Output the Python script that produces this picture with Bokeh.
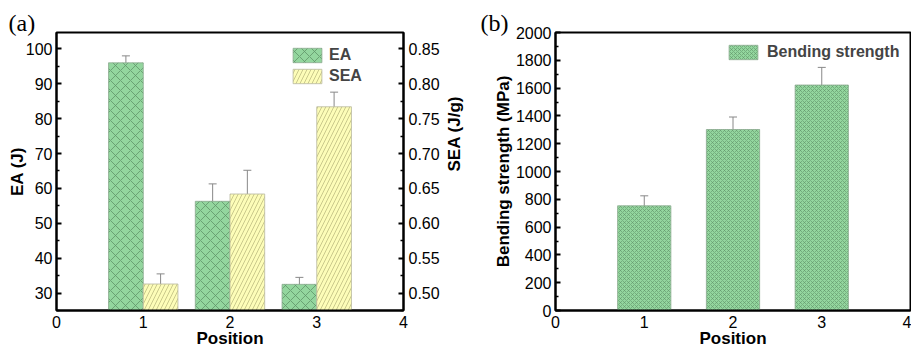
import math
from bokeh.plotting import figure
from bokeh.models import (ColumnDataSource, Range1d, LinearAxis, FixedTicker, Whisker, TeeHead,
                          Legend, LegendItem, Title, NumeralTickFormatter)
from bokeh.layouts import row
from bokeh.transform import dodge
from bokeh.embed import file_html
from bokeh.resources import INLINE

# ---- data ----
positions = [1, 2, 3]
ea = [96.0, 56.3, 32.5]
ea_err = [2.0, 5.0, 2.0]
sea = [0.513, 0.642, 0.767]
sea_err = [0.0145, 0.034, 0.021]
bending = [753, 1302, 1622]
bending_err = [72, 90, 127]
x_ticks = [0, 1, 2, 3, 4]
ea_ticks = [30, 40, 50, 60, 70, 80, 90, 100]
sea_ticks = [0.50, 0.55, 0.60, 0.65, 0.70, 0.75, 0.80, 0.85]
bend_ticks = [0, 200, 400, 600, 800, 1000, 1200, 1400, 1600, 1800, 2000]

FONT = "Liberation Sans"
GREEN = "#93d69e"
GREEN_H = "#5f9468"
YELLOW = "#fdfdb8"
YELLOW_H = "#bdbb80"


def style_axis(ax, tick_in=5, minor_in=3):
    ax.axis_line_color = "black"
    ax.axis_line_width = 2
    ax.major_tick_in = tick_in
    ax.major_tick_out = 0
    ax.minor_tick_in = minor_in
    ax.minor_tick_out = 0
    ax.major_tick_line_width = 2
    ax.minor_tick_line_width = 1.5
    ax.major_label_text_font = FONT
    ax.major_label_text_font_size = "16px"
    ax.major_label_text_color = "black"
    ax.axis_label_text_font = FONT
    ax.axis_label_text_font_size = "17px"
    ax.axis_label_text_font_style = "bold"
    ax.axis_label_text_color = "black"


def base_fig(width, yr, ml, mr, tag, tag_offset):
    p = figure(width=width, height=350, x_range=Range1d(0, 4), y_range=yr,
               output_backend="svg", toolbar_location=None,
               min_border_left=ml, min_border_right=mr, min_border_top=32, min_border_bottom=10)
    p.title = Title(text=tag, align="left", offset=tag_offset, standoff=-7, vertical_align="bottom",
                    text_font="Liberation Serif", text_font_size="24px", text_font_style="normal",
                    text_color="black")
    p.xgrid.visible = False
    p.ygrid.visible = False
    p.outline_line_color = "black"
    p.outline_line_width = 2
    p.outline_line_alpha = 1
    p.background_fill_color = "white"
    p.border_fill_color = "white"
    p.xaxis.ticker = FixedTicker(ticks=x_ticks)
    p.xaxis.axis_label = "Position"
    style_axis(p.xaxis[0], tick_in=0, minor_in=0)
    p.xaxis.major_label_standoff = 5
    p.xaxis.axis_label_standoff = -2
    return p


# ---- panel (a) ----
src_a = ColumnDataSource(dict(pos=positions, ea=ea, ea_up=[v + e for v, e in zip(ea, ea_err)],
                              ea_lo=[v - e for v, e in zip(ea, ea_err)],
                              sea=sea, sea_up=[v + e for v, e in zip(sea, sea_err)],
                              sea_lo=[v - e for v, e in zip(sea, sea_err)]))

pa = base_fig(478, Range1d(25, 104.7), 56, 75, "(a)", -48)
pa.extra_y_ranges = {"sea": Range1d(0.475, 0.8735)}
pa.yaxis.ticker = FixedTicker(ticks=ea_ticks, minor_ticks=[v + 5 for v in ea_ticks[:-1]] + [25])
pa.yaxis.axis_label = "EA (J)"
style_axis(pa.yaxis[0])
pa.yaxis.major_label_standoff = 4
pa.yaxis.axis_label_standoff = -4

ax_r = LinearAxis(y_range_name="sea", axis_label="SEA (J/g)",
                  ticker=FixedTicker(ticks=sea_ticks, minor_ticks=[round(v + 0.025, 3) for v in sea_ticks[:-1]] + [0.475]),
                  formatter=NumeralTickFormatter(format="0.00"))
style_axis(ax_r)
ax_r.major_label_standoff = 5
ax_r.axis_label_standoff = 12
if "axis_label_orientation" in ax_r.properties():
    ax_r.axis_label_orientation = math.pi / 2
pa.add_layout(ax_r, "right")

r_ea = pa.vbar(x=dodge("pos", -0.2, range=pa.x_range), top="ea", width=0.4, source=src_a,
               fill_color=GREEN, line_color="#8aa88e", line_width=0.8,
               hatch_pattern="diagonal_cross", hatch_color=GREEN_H, hatch_scale=10, hatch_weight=0.8)
r_sea = pa.vbar(x=dodge("pos", 0.2, range=pa.x_range), top="sea", width=0.4, source=src_a,
                y_range_name="sea", fill_color=YELLOW, line_color="#b8b8a0", line_width=0.8,
                hatch_pattern="right_diagonal_line", hatch_color=YELLOW_H, hatch_scale=8, hatch_weight=0.8)

pa.add_layout(Whisker(base=dodge("pos", -0.2, range=pa.x_range), upper="ea_up", lower="ea_lo", source=src_a,
                      line_color="#888888", line_width=1,
                      upper_head=TeeHead(size=8, line_color="#888888", line_width=1),
                      lower_head=TeeHead(size=8, line_color="#888888", line_width=1)))
pa.add_layout(Whisker(base=dodge("pos", 0.2, range=pa.x_range), upper="sea_up", lower="sea_lo", source=src_a,
                      y_range_name="sea", line_color="#888888", line_width=1,
                      upper_head=TeeHead(size=8, line_color="#888888", line_width=1),
                      lower_head=TeeHead(size=8, line_color="#888888", line_width=1)))

leg_a = Legend(items=[LegendItem(label="EA", renderers=[r_ea]), LegendItem(label="SEA", renderers=[r_sea])],
               location=(233, 225), glyph_width=36, glyph_height=18, label_height=18, spacing=3,
               padding=0, margin=0, border_line_color=None, background_fill_alpha=0,
               label_text_font=FONT, label_text_font_size="16px", label_text_font_style="bold",
               label_standoff=4)
pa.add_layout(leg_a)

# ---- panel (b) ----
src_b = ColumnDataSource(dict(pos=positions, b=bending,
                              b_up=[v + e for v, e in zip(bending, bending_err)],
                              b_lo=[v - e for v, e in zip(bending, bending_err)]))
pb = base_fig(433, Range1d(0, 2000), 77, 1, "(b)", -75)
pb.yaxis.ticker = FixedTicker(ticks=bend_ticks, minor_ticks=[v + 100 for v in bend_ticks[:-1]])
pb.yaxis.axis_label = "Bending strength (MPa)"
style_axis(pb.yaxis[0])
pb.yaxis.major_label_standoff = 4
pb.yaxis.axis_label_standoff = 0

r_b = pb.vbar(x="pos", top="b", width=0.6, source=src_b,
              fill_color=GREEN, line_color="#8aa88e", line_width=0.8,
              hatch_pattern="diagonal_cross", hatch_color=GREEN_H, hatch_scale=4, hatch_weight=0.6)
pb.add_layout(Whisker(base="pos", upper="b_up", lower="b_lo", source=src_b,
                      line_color="#888888", line_width=1,
                      upper_head=TeeHead(size=8, line_color="#888888", line_width=1),
                      lower_head=TeeHead(size=8, line_color="#888888", line_width=1)))
leg_b = Legend(items=[LegendItem(label="Bending strength", renderers=[r_b])],
               location=(170, 249), glyph_width=36, glyph_height=18, label_height=18, spacing=3,
               padding=0, margin=0, border_line_color=None, background_fill_alpha=0,
               label_text_font=FONT, label_text_font_size="16px", label_text_font_style="bold",
               label_standoff=6)
pb.add_layout(leg_b)

layout = row(pa, pb, spacing=0)
open("out.html", "w").write(file_html(layout, INLINE))
